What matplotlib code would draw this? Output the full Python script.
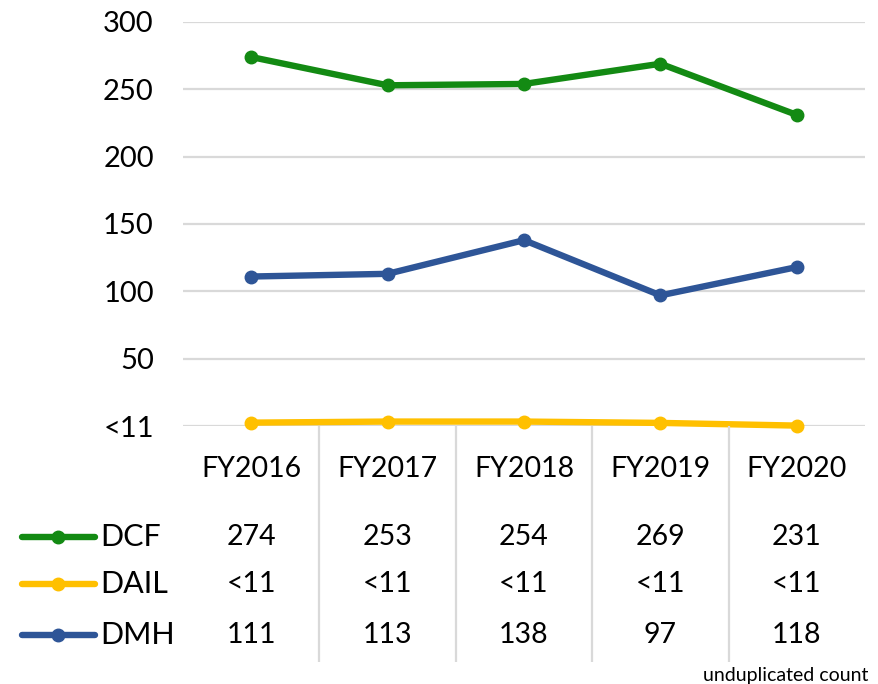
import matplotlib
matplotlib.use("Agg")
import matplotlib.pyplot as plt
from matplotlib.lines import Line2D

plt.rcParams['font.family'] = ['Lato', 'DejaVu Sans']

years = ["FY2016", "FY2017", "FY2018", "FY2019", "FY2020"]
series_names = ["DCF", "DAIL", "DMH"]
dcf = [274, 253, 254, 269, 231]
dail = [2.5, 3.3, 3.3, 2.3, 0.3]          # suppressed counts (<11), drawn near zero
dmh = [111, 113, 138, 97, 118]
table_dcf = ["274", "253", "254", "269", "231"]
table_dail = ["<11", "<11", "<11", "<11", "<11"]
table_dmh = ["111", "113", "138", "97", "118"]
yticks = [0, 50, 100, 150, 200, 250, 300]
ytick_labels = ["<11", "50", "100", "150", "200", "250", "300"]

colors = {"DCF": "#138A13", "DAIL": "#FFC000", "DMH": "#2E5597"}
grid_color = "#D9D9D9"

W, H = 879, 684
fig = plt.figure(figsize=(W / 100, H / 100), dpi=100)

def fx(px):
    return px / W

def fy(py):
    return 1 - py / H

# main line chart
ax = fig.add_axes([fx(183), fy(426), fx(865) - fx(183), fy(22) - fy(426)])
x = list(range(len(years)))
for name, vals in zip(series_names, [dcf, dail, dmh]):
    ax.plot(x, vals, color=colors[name], lw=4.6, marker="o", ms=9,
            solid_capstyle="round", clip_on=False, zorder=3)
ax.set_xlim(-0.5, len(years) - 0.5)
ax.set_ylim(0, 300)
ax.set_yticks(yticks)
ax.set_yticklabels(ytick_labels, fontsize=21)
ax.tick_params(axis="y", length=0, pad=21)
ax.set_xticks([])
ax.grid(axis="y", color=grid_color, lw=1.6)
ax.set_axisbelow(True)
for s in ax.spines.values():
    s.set_visible(False)

# data table underneath
tab = fig.add_axes([fx(183), fy(662), fx(865) - fx(183), fy(426) - fy(662)])
tab.set_xlim(-0.5, len(years) - 0.5)
tab.set_ylim(662, 426)
tab.axis("off")
for i in range(1, len(years)):
    tab.plot([i - 0.5, i - 0.5], [426, 662], color=grid_color, lw=1.6)

row_y = {"header": 469, "DCF": 537, "DAIL": 584, "DMH": 635}
for i, yr in enumerate(years):
    tab.text(i, row_y["header"], yr, ha="center", va="center", fontsize=20.5)
for name, vals in zip(series_names, [table_dcf, table_dail, table_dmh]):
    for i, v in enumerate(vals):
        tab.text(i, row_y[name], v, ha="center", va="center", fontsize=20.5)
    ypos = fy(row_y[name])
    fig.add_artist(Line2D([fx(22), fx(58), fx(95)], [ypos, ypos, ypos],
                          transform=fig.transFigure, color=colors[name], lw=4.6,
                          marker="o", ms=9, markevery=[1], solid_capstyle="round"))
    fig.text(fx(100), ypos, name, ha="left", va="center", fontsize=22)

fig.text(fx(868), fy(675), "unduplicated count", ha="right", va="center", fontsize=14)

fig.savefig("out.png", dpi=100)
